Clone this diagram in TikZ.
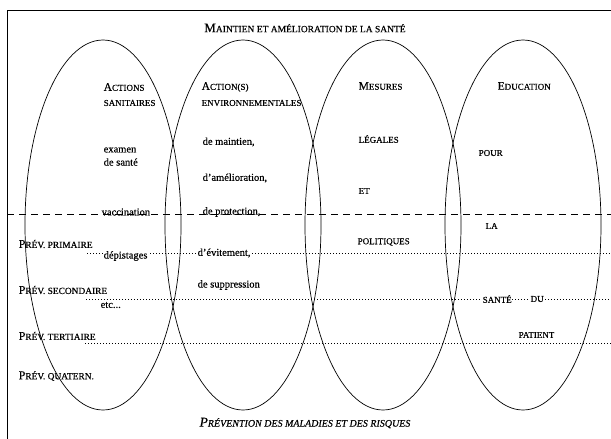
\documentclass[tikz,border=0pt]{standalone}
\usepackage{fontspec}
\setmainfont{Liberation Serif}[FakeBold=0.35]
\newcommand\Bg[1]{{\fontsize{11.5}{12}\selectfont #1}}
\newcommand\Sm[1]{{\fontsize{9}{10}\selectfont #1}}
\newcommand\PBg[1]{{\fontsize{12}{13}\selectfont #1}}
\newcommand\PSm[1]{{\fontsize{9.4}{10}\selectfont #1}}
\newcommand\TBg[1]{{\fontsize{13}{14}\selectfont #1}}
\newcommand\TSm[1]{{\fontsize{9.5}{11}\selectfont #1}}
\newcommand\BBg[1]{{\fontsize{13.5}{14}\selectfont #1}}
\newcommand\BSm[1]{{\fontsize{10}{11}\selectfont #1}}
\tikzset{
  lbl/.style={anchor=west, inner sep=0.5pt, font=\fontsize{10.5}{12}\selectfont},
  cut/.style={lbl, fill=white},
  ell/.style={line width=0.7pt},
  dashline/.style={line width=0.6pt, dash pattern=on 7pt off 5pt},
  dotline/.style={line width=0.6pt, dash pattern=on 0.7pt off 2.3pt},
  frame/.style={line width=0.8pt}
}
\begin{document}
\begin{tikzpicture}[x=1pt,y=-1pt]
\useasboundingbox (0,0) rectangle (611,439);
% frame
\coordinate (fbl) at (7,439);
\coordinate (ftl) at (7,10);
\coordinate (ftr) at (611,10);
\draw[frame] (fbl) -- (ftl) -- (ftr);
% ellipses
\foreach \cx in {103,243,383,523}{
  \draw[ell] (\cx,225) ellipse [x radius=78, y radius=185];
}
% dashed and dotted lines
\coordinate (dashL) at (7,214);
\coordinate (dashR) at (611,214);
\draw[dashline] (dashL) -- (dashR);
\coordinate (d1L) at (87,253);  \coordinate (d1R) at (611,253);
\coordinate (d2L) at (86,299);  \coordinate (d2R) at (611,299);
\coordinate (d3L) at (85,343);  \coordinate (d3R) at (611,343);
\draw[dotline] (d1L) -- (d1R);
\draw[dotline] (d2L) -- (d2R);
\draw[dotline] (d3L) -- (d3R);
% titles
\node (title) at (305,28) {\TBg{M}\TSm{AINTIEN ET AMÉLIORATION DE LA SANTÉ}};
\node (bottom) at (305,423) {\itshape\BBg{P}\BSm{RÉVENTION DES MALADIES ET DES RISQUES}};
% column 1
\node[lbl] (act1) at (103,87) {\Bg{A}\Sm{CTIONS}};
\node[lbl] (act2) at (103,103) {\Sm{SANITAIRES}};
\node[lbl] (exa) at (103,150) {examen};
\node[lbl] (sant) at (103,162) {de santé};
\node[lbl] (vac) at (101,212) {vaccination};
\node[cut] (dep) at (103,256) {dépistages};
\node[lbl] (etc) at (100,305) {etc...};
% column 2
\node[lbl] (env1) at (201,87) {\Bg{A}\Sm{CTION(S)}};
\node[lbl] (env2) at (201,103) {\Sm{ENVIRONNEMENTALES}};
\node[lbl] (main) at (202,142) {de maintien,};
\node[lbl] (amel) at (202,178) {d'amélioration,};
\node[lbl] (prot) at (202,212) {de protection,};
\node[cut] (evit) at (197,253) {d'évitement,};
\node[lbl] (supp) at (197,285) {de suppression};
% column 3
\node[lbl] (mes) at (358,86) {\Bg{M}\Sm{ESURES}};
\node[lbl] (leg) at (358,139) {\Sm{LÉGALES}};
\node[lbl] (et) at (358,191) {\Sm{ET}};
\node[lbl] (pol) at (357,242) {\Sm{POLITIQUES}};
% column 4
\node[lbl] (edu) at (497,86) {\Bg{E}\Sm{DUCATION}};
\node[lbl] (pour) at (478,153) {\Sm{POUR}};
\node[lbl] (la) at (485,226) {\Sm{LA}};
\node[cut] (sante) at (482,299) {\Sm{SANTÉ}};
\node[cut] (du) at (530,299) {\Sm{DU}};
\node[lbl] (pat) at (518,335) {\Sm{PATIENT}};
% prevention levels
\node[lbl] (p1) at (18,244) {\PBg{P}\PSm{RÉV. PRIMAIRE}};
\node[lbl] (p2) at (18,290) {\PBg{P}\PSm{RÉV. SECONDAIRE}};
\node[lbl] (p3) at (18,336) {\PBg{P}\PSm{RÉV. TERTIAIRE}};
\node[lbl] (p4) at (18,376) {\PBg{P}\PSm{RÉV. QUATERN.}};
\end{tikzpicture}
\end{document}
